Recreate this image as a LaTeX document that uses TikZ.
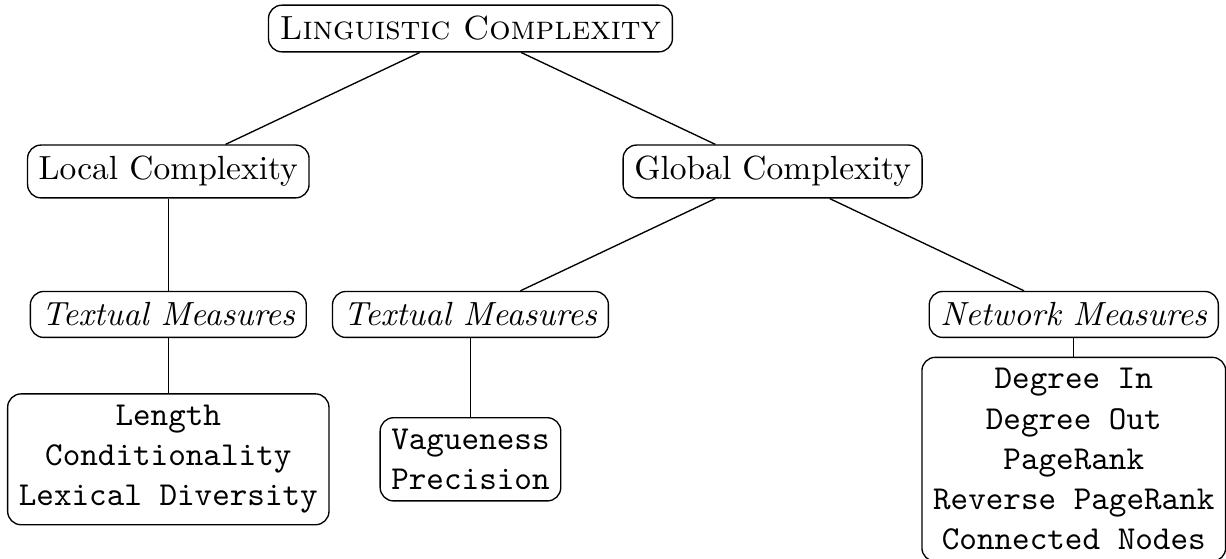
\documentclass[tikz,border=0pt]{standalone}
\begin{document}
\begin{tikzpicture}[
        box/.style={draw, rounded corners},
        leafbox/.style={box, align=center, font=\ttfamily}
    ]
        % Fix the bounding box to the reference proportions
        \useasboundingbox (-4.936,0.299) rectangle (7.927,-5.556);

        % Root node
        \node[box] (root) at (0,0) {\textsc{Linguistic Complexity}};

        % Two kinds of complexity
        \node[box] (local) at (-3.17,-1.5) {Local Complexity};
        \node[box] (global) at (3.17,-1.5) {Global Complexity};

        % Kinds of measures
        \node[box] (loctext) at (-3.17,-3.0) {\textit{Textual Measures}};
        \node[box] (globtext) at (0,-3.0) {\textit{Textual Measures}};
        \node[box] (globnet) at (6.33,-3.0) {\textit{Network Measures}};

        % Lists of measures
        \node[leafbox] (loclist) at (-3.17,-4.52) {Length\\Conditionality\\Lexical Diversity};
        \node[leafbox] (textlist) at (0,-4.52) {Vagueness\\Precision};
        \node[leafbox] (netlist) at (6.33,-4.52) {Degree In\\Degree Out\\PageRank\\Reverse PageRank\\Connected Nodes};

        % Connect the tree
        \draw (root) -- (local);
        \draw (root) -- (global);
        \draw (local) -- (loctext);
        \draw (global) -- (globtext);
        \draw (global) -- (globnet);
        \draw (loctext) -- (loclist);
        \draw (globtext) -- (textlist);
        \draw (globnet) -- (netlist);
    \end{tikzpicture}
\end{document}
